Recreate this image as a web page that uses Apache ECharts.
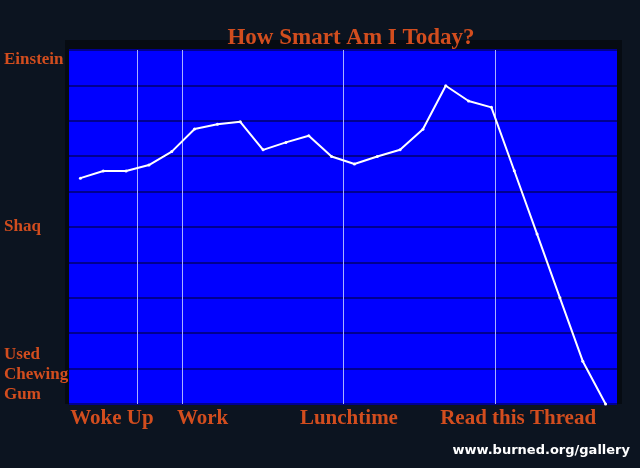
<!DOCTYPE html>
<html>
<head>
<meta charset="utf-8">
<script src="https://cdn.jsdelivr.net/npm/echarts@6/dist/echarts.min.js"></script>
<style>html,body{margin:0;padding:0;background:#0c1420;}#c{width:640px;height:468px;}</style>
</head>
<body>
<div id="c"></div>
<script>
// Smartness readings through the day (0 = Used Chewing Gum, 5 = Shaq, 10 = Einstein)
const smartness = [6.38, 6.58, 6.58, 6.75, 7.13, 7.77, 7.90, 7.97, 7.18, 7.39, 7.58, 6.99,
                   6.78, 6.99, 7.18, 7.76, 8.99, 8.56, 8.38, 6.59, 4.80, 3.00, 1.21, 0.0];
// Events (vertical lines) on the reading index scale
const eventPositions = [2.48, 4.45, 11.5, 18.15];
// Bottom labels and where they sit on the reading index scale
const xLabelValues = [1.38, 5.35, 11.76, 19.17];
const xLabelTexts = ['Woke Up', 'Work', 'Lunchtime', 'Read this Thread'];
// Left labels
const yLabelValues = [10, 5, 1];
const yLabelTexts = ['Einstein', 'Shaq', 'Used\nChewing\nGum'];

const orange = '#d24d1e';
const serif = '"Liberation Serif", "Times New Roman", serif';

const chart = echarts.init(document.getElementById('c'), null, {renderer: 'canvas'});
chart.setOption({
  backgroundColor: '#0c1420',
  animation: false,
  title: [{
    text: 'How Smart Am I Today?',
    left: 351, top: 27, textAlign: 'center', padding: 0,
    textStyle: {color: orange, fontFamily: serif, fontWeight: 'bold', fontSize: 23}
  }, {
    text: 'www.burned.org/gallery',
    right: 10, top: 444, padding: 0,
    textStyle: {color: '#ffffff', fontFamily: '"DejaVu Sans", Verdana, sans-serif', fontWeight: 'bold', fontSize: 13}
  }],
  graphic: [{
    type: 'rect', z: -10, silent: true,
    shape: {x: 65, y: 40, width: 557, height: 364},
    style: {fill: '#060b12'}
  }],
  grid: {left: 69, right: 23, top: 50, bottom: 64, show: true, backgroundColor: '#0000ff', borderWidth: 0},
  xAxis: {
    type: 'value', min: -0.5, max: 23.5,
    axisLine: {show: false}, axisTick: {show: false}, splitLine: {show: false},
    axisLabel: {
      customValues: xLabelValues,
      margin: 4,
      color: orange, fontFamily: serif, fontWeight: 'bold', fontSize: 21,
      formatter: function (v) {
        const i = xLabelValues.indexOf(v);
        return i >= 0 ? xLabelTexts[i] : '';
      }
    }
  },
  yAxis: {
    type: 'value', min: 0, max: 10, interval: 1,
    axisLine: {show: false}, axisTick: {show: false},
    splitLine: {show: true, lineStyle: {color: '#000090', width: 2}},
    axisLabel: {
      align: 'left', margin: 65,
      color: orange, fontFamily: serif, fontWeight: 'bold', fontSize: 17,
      formatter: function (v) {
        const i = yLabelValues.indexOf(v);
        if (i < 0) return '';
        if (v === 10) return '{top|' + yLabelTexts[i] + '}';
        if (v === 1) return '{gum|' + yLabelTexts[i] + '}';
        return yLabelTexts[i];
      },
      rich: {
        top: {color: orange, fontFamily: serif, fontWeight: 'bold', fontSize: 17, lineHeight: 20, padding: [20, 0, 0, 0]},
        gum: {color: orange, fontFamily: serif, fontWeight: 'bold', fontSize: 17, lineHeight: 20, padding: [12, 0, 0, 0]}
      }
    }
  },
  series: [{
    type: 'line',
    data: smartness.map(function (v, i) { return [i, v]; }),
    symbol: 'circle', symbolSize: 3, showSymbol: true,
    lineStyle: {color: '#ffffff', width: 2},
    itemStyle: {color: '#ffffff'},
    z: 5,
    markLine: {
      silent: true, symbol: 'none', animation: false,
      label: {show: false},
      lineStyle: {color: '#aab0ff', width: 1, type: 'solid'},
      data: eventPositions.map(function (p) { return {xAxis: p}; })
    }
  }]
});
</script>
</body>
</html>
